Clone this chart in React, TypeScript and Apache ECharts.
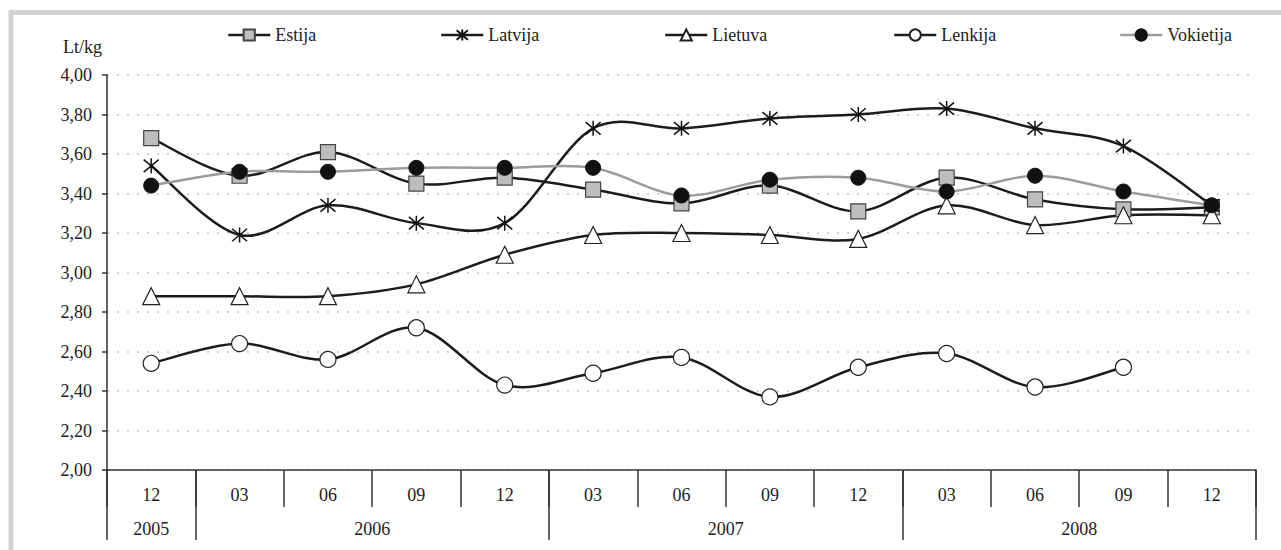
import React, { useEffect, useRef } from 'react';
import * as echarts from 'echarts';

const categories = ['12', '03', '06', '09', '12', '03', '06', '09', '12', '03', '06', '09', '12'];
const years = ['2005', '2006', '2007', '2008'];
const yearSpans = [1, 4, 4, 4];
const yTicks = [2.0, 2.2, 2.4, 2.6, 2.8, 3.0, 3.2, 3.4, 3.6, 3.8, 4.0];

const seriesNames = ['Estija', 'Latvija', 'Lietuva', 'Lenkija', 'Vokietija'];
const estija = [3.68, 3.49, 3.61, 3.45, 3.48, 3.42, 3.35, 3.44, 3.31, 3.48, 3.37, 3.32, 3.33];
const latvija = [3.54, 3.19, 3.34, 3.25, 3.25, 3.73, 3.73, 3.78, 3.8, 3.83, 3.73, 3.64, 3.34];
const lietuva = [2.88, 2.88, 2.88, 2.94, 3.09, 3.19, 3.2, 3.19, 3.17, 3.34, 3.24, 3.29, 3.29];
const lenkija = [2.54, 2.64, 2.56, 2.72, 2.43, 2.49, 2.57, 2.37, 2.52, 2.59, 2.42, 2.52, null];
const vokietija = [3.44, 3.51, 3.51, 3.53, 3.53, 3.53, 3.39, 3.47, 3.48, 3.41, 3.49, 3.41, 3.34];

const FONT = 'Liberation Serif';
const ASTERISK = 'path://M0 0L10 10M0 10L10 0M5 -1L5 11';

// segments for Excel-like (Catmull-Rom) smoothing: [i, y_i, y_i+1, y_i-1, y_i+2, hasPrev, hasNext2]
function makeSegments(vals: (number | null)[]) {
  const out: number[][] = [];
  for (let i = 0; i < vals.length - 1; i++) {
    const a = vals[i];
    const b = vals[i + 1];
    if (a == null || b == null) continue;
    const prev = i > 0 ? vals[i - 1] : null;
    const next2 = i + 2 < vals.length ? vals[i + 2] : null;
    out.push([i, a, b, prev == null ? a : prev, next2 == null ? b : next2, prev == null ? 0 : 1, next2 == null ? 0 : 1]);
  }
  return out;
}

function curveSeries(name: string, vals: (number | null)[], color: string, z: number) {
  return {
    name: name + '-curve',
    type: 'custom',
    data: makeSegments(vals),
    encode: { x: 0, y: 1 },
    z,
    silent: true,
    renderItem: (params: any, api: any) => {
      const i = api.value(0);
      const p1 = api.coord([i, api.value(1)]);
      const p2 = api.coord([i + 1, api.value(2)]);
      const p0 = api.value(5) ? api.coord([i - 1, api.value(3)]) : p1;
      const p3 = api.value(6) ? api.coord([i + 2, api.value(4)]) : p2;
      const t = 1 / 6;
      return {
        type: 'bezierCurve',
        shape: {
          x1: p1[0],
          y1: p1[1],
          x2: p2[0],
          y2: p2[1],
          cpx1: p1[0] + (p2[0] - p0[0]) * t,
          cpy1: p1[1] + (p2[1] - p0[1]) * t,
          cpx2: p2[0] - (p3[0] - p1[0]) * t,
          cpy2: p2[1] - (p3[1] - p1[1]) * t,
        },
        style: { stroke: color, lineWidth: 2.5, fill: 'none' },
      };
    },
  };
}

export default function App() {
  const ref = useRef<HTMLDivElement>(null);

  useEffect(() => {
    if (!ref.current) return;
    const chart = echarts.init(ref.current, null, { renderer: 'svg' });

    const bounds: number[] = [0];
    const centers: number[] = [];
    let acc = 0;
    yearSpans.forEach((s) => {
      centers.push(acc + s / 2);
      acc += s;
      bounds.push(acc);
    });

    const lineBlack = '#1c1c1c';
    const gray = '#9c9c9c';
    const lineColors = [lineBlack, lineBlack, lineBlack, lineBlack, gray];

    const option: any = {
      animation: false,
      backgroundColor: '#ffffff',
      textStyle: { fontFamily: FONT },
      grid: { left: 107, right: 25, top: 75, bottom: 80, containLabel: false },
      legend: seriesNames.map((n, i) => ({
        data: [n],
        left: [227, 440, 664, 893, 1119][i],
        top: 26,
        itemWidth: 42,
        itemHeight: 14,
        padding: 0,
        lineStyle: { color: lineColors[i], width: 2.5, opacity: 1 },
        textStyle: { fontFamily: FONT, fontSize: 18, color: '#222' },
      })),
      graphic: [
        {
          type: 'polyline',
          shape: { points: [[11, 560], [11, 12.5], [1290, 12.5]] },
          style: { stroke: '#d2d2d2', lineWidth: 5, fill: 'none' },
          silent: true,
        },
        {
          type: 'text',
          left: 63,
          top: 38,
          style: { text: 'Lt/kg', fontSize: 18, fontFamily: FONT, fill: '#222' },
        },
      ],
      xAxis: [
        {
          type: 'category',
          data: categories,
          boundaryGap: true,
          axisLine: { show: true, lineStyle: { color: '#333', width: 1.5 } },
          axisTick: { show: true, interval: 0, length: 37, lineStyle: { color: '#333', width: 1.5 } },
          axisLabel: { interval: 0, margin: 16, fontSize: 18, fontFamily: FONT, color: '#222' },
          splitLine: { show: false },
        },
        {
          type: 'value',
          min: 0,
          max: categories.length,
          position: 'bottom',
          axisLine: { show: false },
          axisTick: {
            show: true,
            customValues: bounds,
            length: 70,
            lineStyle: { color: '#333', width: 1.5 },
          },
          axisLabel: {
            customValues: centers,
            margin: 50,
            fontSize: 18,
            fontFamily: FONT,
            color: '#222',
            formatter: (v: number) => {
              const idx = centers.findIndex((c) => Math.abs(c - v) < 1e-6);
              return idx >= 0 ? years[idx] : '';
            },
          },
          splitLine: { show: false },
        },
      ],
      yAxis: {
        type: 'value',
        min: yTicks[0],
        max: yTicks[yTicks.length - 1],
        interval: 0.2,
        axisLine: { show: true, lineStyle: { color: '#333', width: 1.5 } },
        axisTick: { show: true, length: 5, lineStyle: { color: '#333', width: 1.5 } },
        axisLabel: {
          margin: 15,
          fontSize: 18,
          fontFamily: FONT,
          color: '#222',
          formatter: (v: number) => v.toFixed(2).replace('.', ','),
        },
        splitLine: { show: true, lineStyle: { color: '#c4c4c4', type: [2, 8], width: 1.5 } },
      },
      series: [
        curveSeries('Estija', estija, lineBlack, 2),
        curveSeries('Latvija', latvija, lineBlack, 2),
        curveSeries('Lietuva', lietuva, lineBlack, 2),
        curveSeries('Lenkija', lenkija, lineBlack, 2),
        curveSeries('Vokietija', vokietija, gray, 2),
        {
          name: 'Estija',
          type: 'line',
          data: estija,
          symbol: 'rect',
          symbolSize: 15,
          lineStyle: { color: lineBlack, width: 2.5, opacity: 0 },
          itemStyle: { color: '#bdbdbd', borderColor: '#444', borderWidth: 1.2 },
          z: 3,
        },
        {
          name: 'Latvija',
          type: 'line',
          data: latvija,
          symbol: ASTERISK,
          symbolSize: 15,
          lineStyle: { color: lineBlack, width: 2.5, opacity: 0 },
          itemStyle: { color: 'none', borderColor: '#111', borderWidth: 1.5 },
          z: 4,
        },
        {
          name: 'Lietuva',
          type: 'line',
          data: lietuva,
          symbol: 'triangle',
          symbolSize: 17,
          lineStyle: { color: lineBlack, width: 2.5, opacity: 0 },
          itemStyle: { color: '#ffffff', borderColor: '#222', borderWidth: 1.2 },
          z: 5,
        },
        {
          name: 'Lenkija',
          type: 'line',
          data: lenkija,
          symbol: 'circle',
          symbolSize: 16,
          lineStyle: { color: lineBlack, width: 2.5, opacity: 0 },
          itemStyle: { color: '#ffffff', borderColor: '#222', borderWidth: 1.2 },
          z: 6,
        },
        {
          name: 'Vokietija',
          type: 'line',
          data: vokietija,
          symbol: 'circle',
          symbolSize: 15,
          lineStyle: { color: gray, width: 2.5, opacity: 0 },
          itemStyle: { color: '#111', borderColor: '#111', borderWidth: 1 },
          z: 7,
        },
      ],
    };

    chart.setOption(option);
    return () => chart.dispose();
  }, []);

  return (
    <div
      ref={ref}
      style={{ position: 'absolute', left: 0, top: 0, width: 1281, height: 550, background: '#fff' }}
    />
  );
}
